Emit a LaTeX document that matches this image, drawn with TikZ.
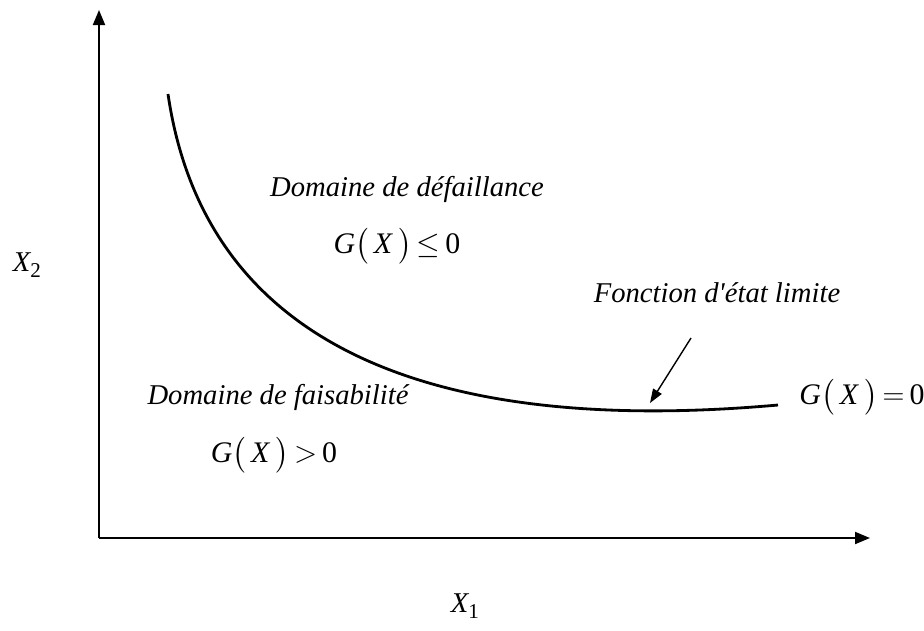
\documentclass[tikz,border=0pt]{standalone}
\usepackage{amsmath}
\usepackage{fontspec}
\setmainfont{Liberation Serif}[Ligatures=TeXOff]
\usepackage{xcolor}
\usepackage{amssymb}
\usetikzlibrary{arrows.meta}

\newcommand{\gofx}[1]{\textit{G}$\bigl(\,$\textit{X}$\,\bigr)$\,#1\,0}

\tikzset{
  axis/.style={line width=1.1pt, -{Triangle[length=0.3cm, width=0.24cm]}},
  lbl/.style={inner sep=1pt, font=\fontsize{16.3}{19}\selectfont\itshape},
  rel/.style={inner sep=1pt, font=\fontsize{17}{20}\selectfont}
}

\begin{document}
\begin{tikzpicture}[x=0.02cm, y=-0.02cm]
\useasboundingbox (0,0) rectangle (924,630);
% axes
\coordinate (o) at (99,538);
\coordinate (ytip) at (99,10);
\coordinate (xtip) at (870,538);
\draw[axis] (o) -- (ytip);
\draw[axis] (o) -- (xtip);
\node[lbl] (x2) at (27,265) {X\raisebox{-0.5ex}{\fontsize{12}{14}\selectfont\upshape 2}};
\node[lbl] (x1) at (465,606) {X\raisebox{-0.5ex}{\fontsize{12}{14}\selectfont\upshape 1}};
% limit state curve
\coordinate (c0) at (168,94);
\coordinate (c1) at (778,405);
\draw[line width=1.6pt] (c0) .. controls (212,395) and (520,428) .. (c1);
\coordinate (hit) at (650,403);
% labels
\node[lbl] (fail) at (407,189) {Domaine de défaillance};
\node[rel] (gneg) at (397,246) {\gofx{$\leq$}};
\node[lbl] (lim) at (717,293) {Fonction d'état limite};
\node[lbl] (feas) at (278,397) {Domaine de faisabilité};
\node[rel] (gpos) at (274,455) {\gofx{$>$}};
\node[rel] (gzero) at (862,397) {\gofx{$=$}};
\draw[line width=0.8pt, -{Triangle[length=0.28cm, width=0.2cm]}] (691,338) -- (hit);
\end{tikzpicture}
\end{document}
